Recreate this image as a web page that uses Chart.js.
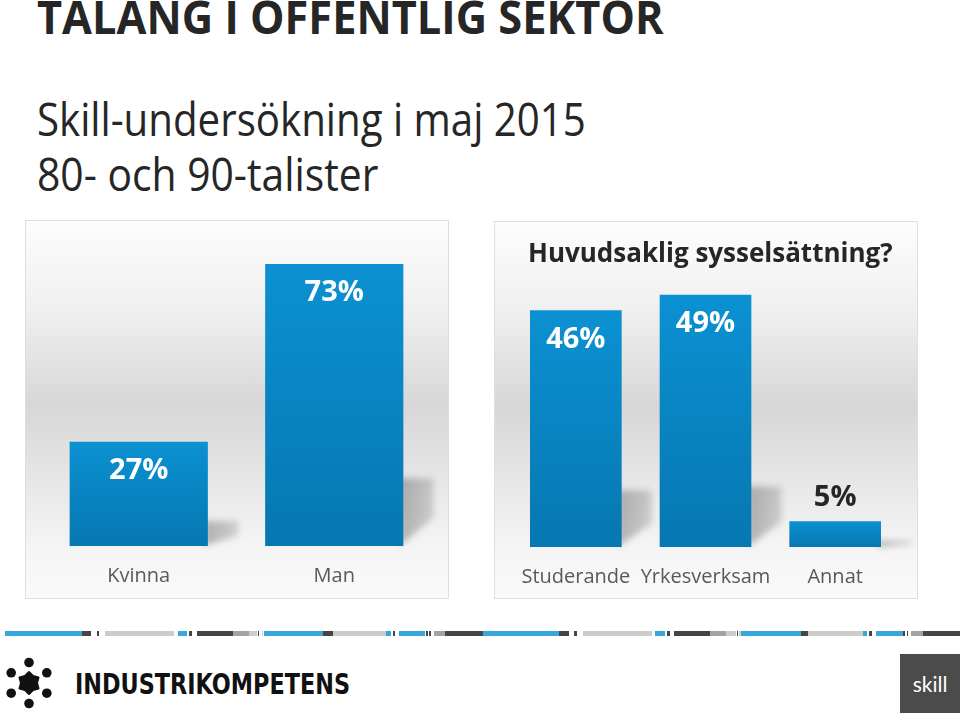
<!DOCTYPE html>
<html lang="sv">
<head>
<meta charset="utf-8">
<title>Talang i offentlig sektor</title>
<script src="https://cdn.jsdelivr.net/npm/chart.js@4.4.7/dist/chart.umd.min.js"></script>
<style>
  html, body {
    margin: 0;
    padding: 0;
    background: #ffffff;
  }
  body {
    position: relative;
    width: 960px;
    height: 715px;
    overflow: hidden;
    font-family: "Open Sans", sans-serif;
    color: #262626;
  }
  .line {
    position: absolute;
    left: 37px;
    white-space: nowrap;
    transform-origin: 0 0;
  }
  .title {
    top: -7px;
    font-size: 46px;
    line-height: 46px;
    font-weight: 700;
  }
  .subtitle {
    font-size: 45px;
    line-height: 45px;
  }
  .panel {
    position: absolute;
    box-sizing: border-box;
    border: 1px solid #dedede;
    background: linear-gradient(to bottom, #fdfdfd 0%, #efefef 24%, #d7d7d7 49%, #e6e6e6 68%, #f4f4f4 86%, #fafafa 100%);
  }
  .chart-box {
    position: absolute;
    inset: 0;
  }
  .panel-title {
    position: absolute;
    left: 528px;
    top: 239px;
    font-size: 26px;
    line-height: 26px;
    font-weight: 700;
    white-space: nowrap;
    color: #262626;
  }
  .stripe {
    position: absolute;
    top: 631px;
    height: 5px;
  }
  .skill {
    position: absolute;
    left: 900px;
    top: 654px;
    width: 60px;
    height: 59px;
    background: #4b4b4b;
  }
  .skill span {
    position: absolute;
    left: 0;
    right: 0;
    top: 19px;
    text-align: center;
    color: #ffffff;
    font-family: Lato, sans-serif;
    font-size: 21px;
    line-height: 21px;
  }
</style>
</head>
<body>
  <div class="line title" id="mainTitle">TALANG I OFFENTLIG SEKTOR</div>
  <div class="line subtitle" id="subLine1" style="top: 96px;">Skill-undersökning i maj 2015</div>
  <div class="line subtitle" id="subLine2" style="top: 151px;">80- och 90-talister</div>

  <div class="panel" style="left: 25px; top: 220px; width: 424px; height: 379px;">
    <div class="chart-box"><canvas id="genderChart"></canvas></div>
  </div>
  <div class="panel" style="left: 494px; top: 221px; width: 424px; height: 378px;">
    <div class="chart-box"><canvas id="occupationChart"></canvas></div>
  </div>
  <div class="panel-title" id="occupationTitle">Huvudsaklig sysselsättning?</div>

  <div id="stripes"></div>

  <svg width="360" height="62" viewBox="0 0 360 62" style="position: absolute; left: 0; top: 650px;">
    <g fill="#111111">
      <circle cx="29" cy="12.5" r="4.8"></circle>
      <circle cx="46.8" cy="22.8" r="4.8"></circle>
      <circle cx="46.8" cy="43.2" r="4.8"></circle>
      <circle cx="29" cy="53.5" r="4.8"></circle>
      <circle cx="11.2" cy="43.2" r="4.8"></circle>
      <circle cx="11.2" cy="22.8" r="4.8"></circle>
      <polygon stroke="#111111" stroke-width="2" stroke-linejoin="round"
        points="29,22 33,26.07 38.53,27.5 37,33 38.53,38.5 33,39.93 29,44 25,39.93 19.47,38.5 21,33 19.47,27.5 25,26.07"></polygon>
      <text x="75" y="44" textLength="275" lengthAdjust="spacingAndGlyphs"
        font-family="'DejaVu Sans Condensed', 'DejaVu Sans', sans-serif" font-weight="700" font-size="29">INDUSTRIKOMPETENS</text>
    </g>
  </svg>

  <div class="skill"><span>skill</span></div>

<script>
const genderLabels = ["Kvinna", "Man"];
const genderValues = [27, 73];
const occupationLabels = ["Studerande", "Yrkesverksam", "Annat"];
const occupationValues = [46, 49, 5];

// footer decoration: [from x, to x, colour]
const stripeSegments = [
  [5, 82, "#3aa6de"], [82, 91, "#454545"], [97, 99, "#454545"], [105, 174, "#cccccc"],
  [178, 187, "#3aa6de"], [189, 192, "#454545"], [197, 233, "#454545"], [233, 249, "#a3a3a3"],
  [249, 257, "#cccccc"], [258, 259, "#454545"], [262, 263, "#cccccc"], [264, 323, "#3aa6de"],
  [323, 333, "#454545"], [333, 386, "#cccccc"], [386, 391, "#3aa6de"], [393, 395, "#454545"],
  [399, 425, "#3aa6de"], [426, 428, "#454545"], [429, 431, "#454545"], [434, 445, "#a3a3a3"],
  [445, 483, "#454545"], [483, 559, "#3aa6de"], [559, 569, "#454545"], [574, 577, "#454545"],
  [583, 652, "#cccccc"], [655, 665, "#3aa6de"], [667, 670, "#454545"], [674, 710, "#454545"],
  [710, 726, "#a3a3a3"], [726, 736, "#cccccc"], [737, 738, "#454545"], [739, 741, "#cccccc"],
  [741, 801, "#3aa6de"], [801, 808, "#454545"], [808, 863, "#cccccc"], [863, 867, "#3aa6de"],
  [869, 872, "#454545"], [876, 903, "#3aa6de"], [903, 905, "#454545"], [907, 908, "#454545"],
  [911, 923, "#a3a3a3"], [923, 960, "#454545"],
];

function fitWidth(element, width) {
  element.style.transform = `scaleX(${width / element.offsetWidth})`;
}

function drawStripes() {
  const holder = document.querySelector("#stripes");
  stripeSegments.forEach(([from, to, colour]) => {
    const piece = document.createElement("div");
    piece.className = "stripe";
    piece.style.left = `${from}px`;
    piece.style.width = `${to - from}px`;
    piece.style.background = colour;
    holder.appendChild(piece);
  });
}

function barFill(context) {
  const chart = context.chart;
  const y = chart.scales.y;
  if (!y || context.dataIndex === undefined) {
    return "#0a86c6";
  }
  const top = y.getPixelForValue(context.raw);
  const bottom = y.getPixelForValue(0);
  if (!Number.isFinite(top) || !Number.isFinite(bottom) || top === bottom) {
    return "#0a86c6";
  }
  const gradient = chart.ctx.createLinearGradient(0, top, 0, bottom);
  gradient.addColorStop(0, "#0b91d2");
  gradient.addColorStop(1, "#0677b1");
  return gradient;
}

const barShadows = {
  id: "barShadows",
  beforeDatasetsDraw(chart) {
    const { ctx } = chart;
    chart.getDatasetMeta(0).data.forEach((bar) => {
      const { x, y, base, width } = bar.getProps(["x", "y", "base", "width"], true);
      const right = x + width / 2;
      const height = base - y;
      const top = base - height * 0.24;
      const low = base - height * 0.1;
      const reach = 30;
      const fill = ctx.createLinearGradient(right, 0, right + reach, 0);
      fill.addColorStop(0, "rgba(0, 0, 0, 0.26)");
      fill.addColorStop(1, "rgba(0, 0, 0, 0.14)");
      ctx.save();
      ctx.filter = "blur(3px)";
      ctx.fillStyle = fill;
      ctx.beginPath();
      ctx.moveTo(right - 4, top);
      ctx.lineTo(right + reach, top);
      ctx.lineTo(right + reach, low);
      ctx.lineTo(right - 4, base);
      ctx.closePath();
      ctx.fill();
      ctx.restore();
    });
  },
};

const valueLabels = {
  id: "valueLabels",
  afterDatasetsDraw(chart) {
    const { ctx } = chart;
    const values = chart.data.datasets[0].data;
    ctx.save();
    ctx.font = "bold 29px 'Open Sans'";
    ctx.textAlign = "center";
    ctx.textBaseline = "middle";
    chart.getDatasetMeta(0).data.forEach((bar, index) => {
      const value = values[index];
      const inside = value >= 10;
      ctx.fillStyle = inside ? "#ffffff" : "#262626";
      ctx.fillText(`${value}%`, bar.x, inside ? bar.y + 29 : bar.y - 24);
    });
    ctx.restore();
  },
};

function barChart(canvas, labels, values, max, padding, axisHeight) {
  return new Chart(canvas, {
    type: "bar",
    data: {
      labels,
      datasets: [{
        data: values,
        backgroundColor: barFill,
        borderWidth: 0,
        categoryPercentage: 1,
        barPercentage: 0.707,
      }],
    },
    options: {
      responsive: true,
      maintainAspectRatio: false,
      animation: false,
      layout: { padding },
      plugins: {
        legend: { display: false },
        tooltip: { enabled: false },
      },
      scales: {
        x: {
          grid: { display: false, drawTicks: false },
          border: { display: false },
          afterFit(scale) {
            scale.height = axisHeight;
          },
          ticks: {
            color: "#595959",
            font: { family: "'Open Sans'", size: 20 },
            padding: 18,
            maxRotation: 0,
            autoSkip: false,
          },
        },
        y: { display: false, min: 0, max },
      },
    },
    plugins: [barShadows, valueLabels],
  });
}

window.addEventListener("load", () => {
  fitWidth(document.querySelector("#mainTitle"), 627);
  fitWidth(document.querySelector("#subLine1"), 549);
  fitWidth(document.querySelector("#subLine2"), 341);
  drawStripes();
  barChart(document.querySelector("#genderChart"), genderLabels, genderValues, 80,
    { left: 15, right: 16, top: 16, bottom: 0 }, 52);
  barChart(document.querySelector("#occupationChart"), occupationLabels, occupationValues, 55,
    { left: 16, right: 17, top: 42, bottom: 0 }, 51);
});
</script>
</body>
</html>
